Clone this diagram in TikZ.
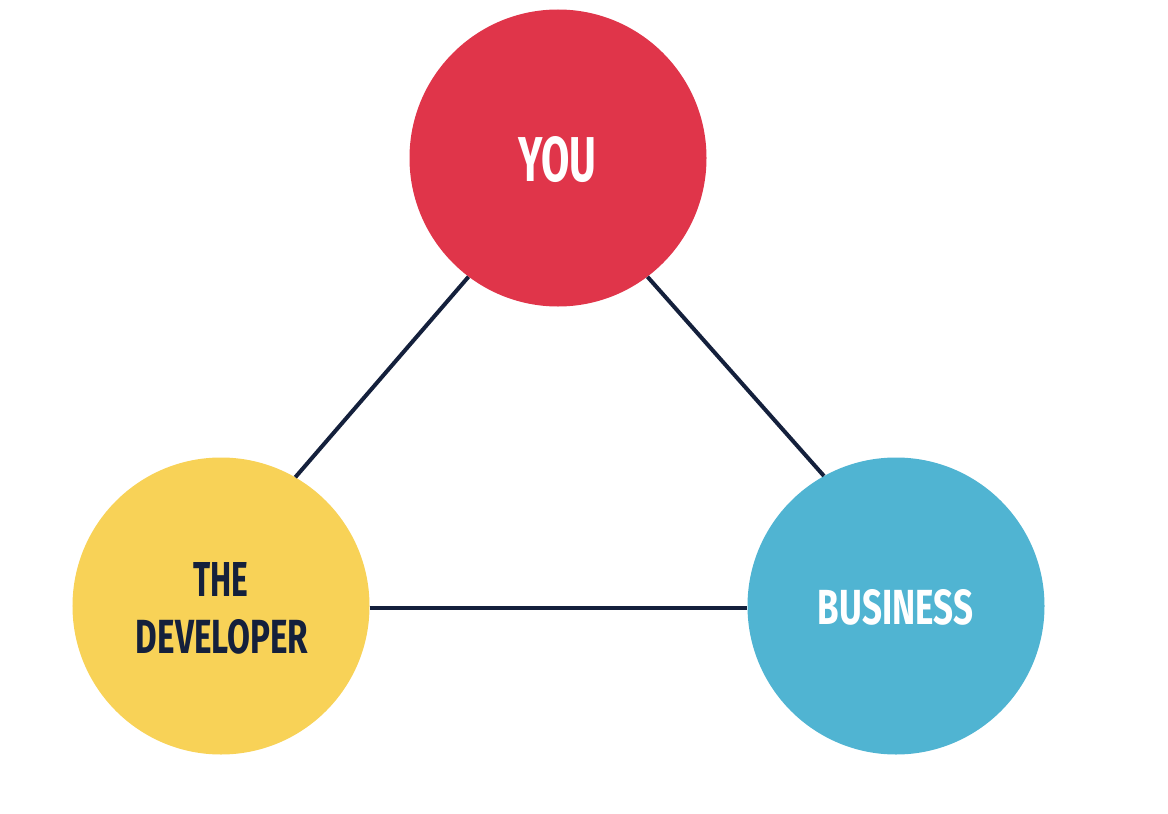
\documentclass[tikz,border=0pt]{standalone}
\usepackage{fontspec}
\setmainfont{Fira Sans}
\usepackage{graphicx}
\definecolor{cred}{HTML}{E0354A}
\definecolor{cyellow}{HTML}{F8D257}
\definecolor{cblue}{HTML}{50B4D2}
\definecolor{cnavy}{HTML}{14203C}
\newcommand{\lbl}[3]{\resizebox{#1bp}{#2bp}{\bfseries #3}}
\tikzset{
  disc/.style={circle, minimum size=297bp, inner sep=0pt, draw=none},
  conn/.style={draw=cnavy, line width=4bp},
  lighttext/.style={text=white, inner sep=0pt},
  darktext/.style={text=cnavy, inner sep=0pt}
}
\begin{document}
\begin{tikzpicture}[x=1bp, y=-1bp]
\useasboundingbox[fill=white] (0,0) rectangle (1168,814);
\node[disc, fill=cred] (you) at (558,158) {};
\node[disc, fill=cyellow] (dev) at (221,606) {};
\node[disc, fill=cblue] (biz) at (896,606) {};
\draw[conn] (you.233) -- (dev.60);
\draw[conn] (you.307) -- (biz.119);
\draw[conn] ([yshift=-2bp]dev.east) -- ([yshift=-2bp]biz.west);
\node[lighttext] (youtxt) at (557.5,159.5) {\lbl{78}{45}{YOU}};
\node[darktext] (thetxt) at (221,579) {\lbl{55}{34}{THE}};
\node[darktext] (devtxt) at (222,637) {\lbl{172}{34}{DEVELOPER}};
\node[lighttext] (biztxt) at (895.5,607.5) {\lbl{155}{35}{BUSINESS}};
\end{tikzpicture}
\end{document}
